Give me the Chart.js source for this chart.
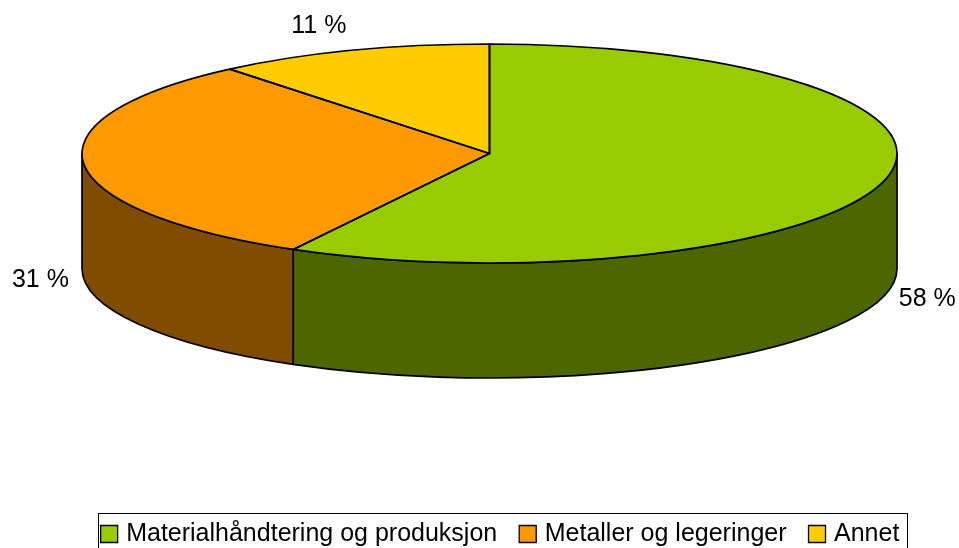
<!DOCTYPE html>
<html>
<head>
<meta charset="utf-8">
<script src="https://cdn.jsdelivr.net/npm/chart.js@4.4.0/dist/chart.umd.min.js"></script>
<style>
  html, body { margin: 0; padding: 0; background: #fff; }
  canvas { display: block; }
</style>
</head>
<body>
<canvas id="pieChart" width="959" height="548"></canvas>
<script>
// ---- data ----
var categories = ['Materialhåndtering og produksjon', 'Metaller og legeringer', 'Annet'];
var shares = [58, 31, 11];

// ---- colours (top face / side wall) ----
var topColors = ['#99CC00', '#FF9900', '#FFCC00'];
var sideColors = ['#4C6600', '#804C00', '#806600'];

// tilted pie: ellipse centre, radii and thickness
var tilt = { cx: 489.5, cy: 153.5, rx: 407.5, ry: 109.5, depth: 115 };
var legendMidY = 534;
var fontFamily = 'Arial, "Liberation Sans", sans-serif';
var fontSize = 25;

Chart.defaults.font.family = fontFamily;
Chart.defaults.color = '#000';

var pie3d = {
    id: 'pie3d',
    afterLayout: function(chart) {
        // the legend sits lower than Chart.js would put it
        var lg = chart.legend;
        var h = lg.bottom - lg.top;
        lg.top = legendMidY - lg.options.labels.padding - fontSize / 2;
        lg.bottom = lg.top + h;
    },
    beforeDatasetsDraw: function(chart) {
        // side walls (front half only)
        var ctx = chart.ctx;
        var arcs = chart.getDatasetMeta(0).data;
        ctx.save();
        ctx.lineWidth = 1.7;
        ctx.strokeStyle = '#000';
        ctx.lineJoin = 'round';
        arcs.forEach(function(arc, i) {
            for (var k = -1; k <= 1; k++) {
                var lo = Math.max(arc.startAngle + k * 2 * Math.PI, 0);
                var hi = Math.min(arc.endAngle + k * 2 * Math.PI, Math.PI);
                if (hi <= lo) continue;
                ctx.beginPath();
                ctx.ellipse(tilt.cx, tilt.cy, tilt.rx, tilt.ry, 0, lo, hi);
                ctx.ellipse(tilt.cx, tilt.cy + tilt.depth, tilt.rx, tilt.ry, 0, hi, lo, true);
                ctx.closePath();
                ctx.fillStyle = sideColors[i];
                ctx.fill();
                ctx.stroke();
            }
        });
        ctx.restore();
    },
    beforeDatasetDraw: function(chart) {
        // squash the round pie into the tilted ellipse
        var arc = chart.getDatasetMeta(0).data[0];
        var ctx = chart.ctx;
        ctx.save();
        ctx.translate(tilt.cx, tilt.cy);
        ctx.scale(tilt.rx / arc.outerRadius, tilt.ry / arc.outerRadius);
        ctx.translate(-arc.x, -arc.y);
    },
    afterDatasetDraw: function(chart) {
        chart.ctx.restore();
    },
    afterDatasetsDraw: function(chart) {
        var ctx = chart.ctx;
        var arcs = chart.getDatasetMeta(0).data;
        var total = shares.reduce(function(a, b) { return a + b; }, 0);
        ctx.save();
        // outlines of the top face
        ctx.lineWidth = 1.7;
        ctx.strokeStyle = '#000';
        ctx.lineJoin = 'round';
        arcs.forEach(function(arc) {
            ctx.beginPath();
            ctx.moveTo(tilt.cx, tilt.cy);
            ctx.ellipse(tilt.cx, tilt.cy, tilt.rx, tilt.ry, 0, arc.startAngle, arc.endAngle);
            ctx.closePath();
            ctx.stroke();
        });
        // percentage labels
        ctx.font = fontSize + 'px ' + fontFamily;
        ctx.fillStyle = '#000';
        ctx.textBaseline = 'middle';
        arcs.forEach(function(arc, i) {
            var mid = (arc.startAngle + arc.endAngle) / 2;
            var c = Math.cos(mid), s = Math.sin(mid);
            var x = tilt.cx + (tilt.rx + 15) * c;
            var y = tilt.cy + (tilt.ry + 15) * s + (s > 0 ? tilt.depth : -10);
            ctx.textAlign = c < 0 ? 'right' : 'left';
            ctx.fillText(Math.round(shares[i] / total * 100) + ' %', x, y);
        });
        ctx.restore();
    },
    afterDraw: function(chart) {
        // frame round the legend
        var ctx = chart.ctx;
        var lg = chart.legend;
        var hb = lg.legendHitBoxes;
        var first = hb[0], last = hb[hb.length - 1];
        var left = Math.round(first.left - 6.5) + 0.5;
        var right = Math.round(last.left + last.width + 7.5) + 0.5;
        ctx.save();
        ctx.lineWidth = 1;
        ctx.strokeStyle = '#000';
        ctx.strokeRect(left, Math.round(legendMidY - 21) + 0.5, right - left, 44);
        ctx.restore();
    }
};

var ctx = document.getElementById('pieChart');
var pieChart = new Chart(ctx, {
    type: 'pie',
    data: {
        labels: categories,
        datasets: [{
            data: shares,
            backgroundColor: topColors,
            borderWidth: 0
        }]
    },
    options: {
        responsive: false,
        animation: false,
        events: [],
        layout: { padding: { left: 45 } },
        plugins: {
            tooltip: { enabled: false },
            legend: {
                position: 'bottom',
                labels: {
                    font: { size: fontSize },
                    color: '#000',
                    usePointStyle: true,
                    pointStyle: 'rect',
                    boxWidth: 9,
                    boxHeight: 17,
                    padding: 26,
                    generateLabels: function(chart) {
                        var items = Chart.overrides.doughnut.plugins.legend.labels.generateLabels(chart);
                        items.forEach(function(it) {
                            it.strokeStyle = '#000';
                            it.lineWidth = 1.3;
                        });
                        return items;
                    }
                }
            }
        }
    },
    plugins: [pie3d]
});
</script>
</body>
</html>
